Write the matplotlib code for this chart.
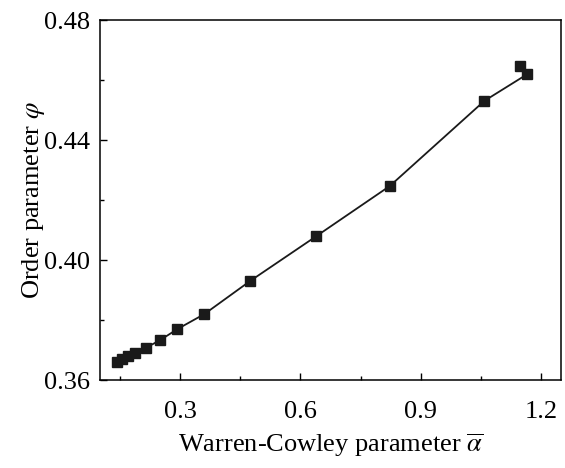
import matplotlib
matplotlib.use("Agg")
import matplotlib.pyplot as plt
from matplotlib.ticker import MultipleLocator

# Values
alpha_bar = [0.1435, 0.1549, 0.1688, 0.1862, 0.2154, 0.250, 0.2933, 0.3605,
             0.4743, 0.640, 0.823, 1.059, 1.166, 1.148]
order_phi = [0.3661, 0.3669, 0.3680, 0.3691, 0.3708, 0.3733, 0.3770, 0.3820,
             0.3930, 0.4080, 0.4247, 0.4531, 0.4620, 0.4647]

plt.rcParams['font.family'] = ['Liberation Serif', 'DejaVu Serif']
plt.rcParams['mathtext.fontset'] = 'stix'

fig = plt.figure(figsize=(5.65, 4.68), dpi=100)
ax = fig.add_axes([0.177, 0.188, 0.816, 0.769])

ax.plot(alpha_bar, order_phi, color='#1a1a1a', linewidth=1.3,
        marker='s', markersize=6.5)

ax.set_xlim(0.1, 1.25)
ax.set_ylim(0.36, 0.48)
ax.xaxis.set_minor_locator(MultipleLocator(0.15))
ax.yaxis.set_minor_locator(MultipleLocator(0.02))
ax.set_xticks([0.3, 0.6, 0.9, 1.2])
ax.set_xticklabels(['0.3', '0.6', '0.9', '1.2'])
ax.set_yticks([0.36, 0.40, 0.44, 0.48])
ax.set_yticklabels(['0.36', '0.40', '0.44', '0.48'])

ax.tick_params(which='both', direction='in', labelsize=19, width=1.0)
ax.tick_params(which='major', length=5)
ax.tick_params(which='minor', length=3)
ax.tick_params(axis='x', which='major', pad=15)
ax.tick_params(axis='y', which='major', pad=7)

for s in ax.spines.values():
    s.set_linewidth(1.1)

ax.set_xlabel(r'Warren-Cowley parameter $\overline{\alpha}$', fontsize=19, labelpad=6)
ax.set_ylabel(r'Order parameter $\varphi$', fontsize=19, labelpad=-2)

fig.savefig('out.png', dpi=100)
